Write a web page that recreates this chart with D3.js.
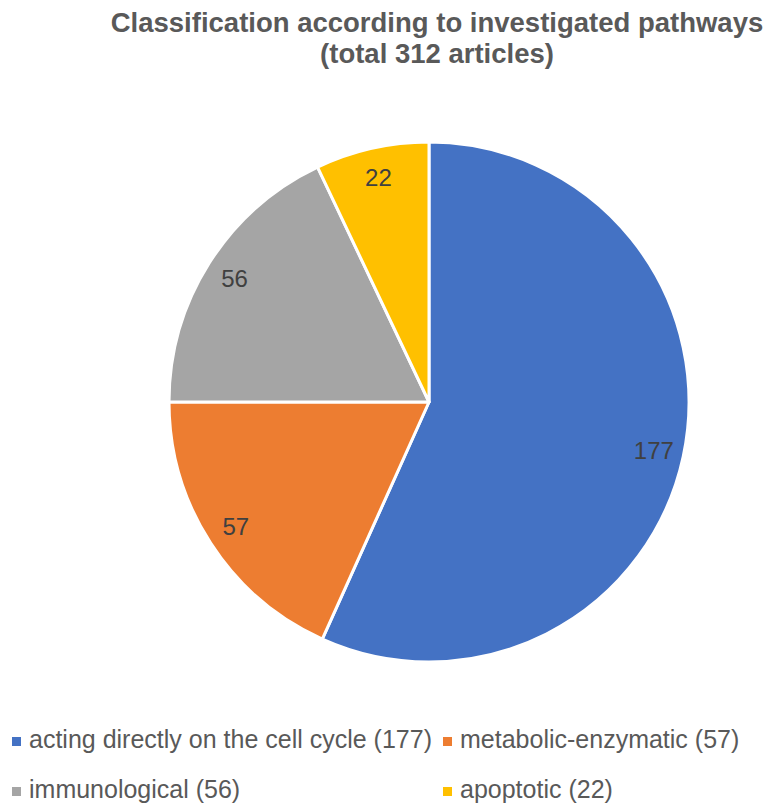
<!DOCTYPE html>
<html>
<head>
<meta charset="utf-8">
<script src="https://cdnjs.cloudflare.com/ajax/libs/d3/7.8.5/d3.min.js"></script>
<style>
  body { margin: 0; background: #fff; }
  svg { display: block; font-family: Arial, "Liberation Sans", sans-serif; }
</style>
</head>
<body>
<svg id="chart" width="776" height="809"></svg>
<script>
/* chart values */
var categories = ["acting directly on the cell cycle", "metabolic-enzymatic", "immunological", "apoptotic"];
var counts = [177, 57, 56, 22];
var colors = ["#4472C4", "#ED7D31", "#A5A5A5", "#FFC000"];
var titleLines = ["Classification according to investigated pathways", "(total 312 articles)"];

var svg = d3.select("#chart");
var textColor = "#595959";

/* title */
svg.selectAll("text.title")
    .data(titleLines)
    .enter().append("text")
    .attr("class", "title")
    .attr("x", 437)
    .attr("y", function(d, i){ return 32 + i * 31; })
    .attr("text-anchor", "middle")
    .attr("font-size", "27.5px")
    .attr("font-weight", "bold")
    .attr("fill", textColor)
    .text(function(d){ return d; });

/* pie */
var cx = 429, cy = 402, R = 260;
var pie = d3.pie().sort(null).value(function(d){ return d; });
var arcs = pie(counts);
var arc = d3.arc().innerRadius(0).outerRadius(R);
var labelArc = d3.arc().innerRadius(230).outerRadius(230);

var g = svg.append("g").attr("transform", "translate(" + cx + "," + cy + ")");

g.selectAll("path")
    .data(arcs)
    .enter().append("path")
    .attr("d", arc)
    .attr("fill", function(d, i){ return colors[i]; })
    .attr("stroke", "#fff")
    .attr("stroke-width", 3)
    .attr("stroke-linejoin", "round");

g.selectAll("text.lbl")
    .data(arcs)
    .enter().append("text")
    .attr("class", "lbl")
    .attr("transform", function(d){ return "translate(" + labelArc.centroid(d) + ")"; })
    .attr("text-anchor", "middle")
    .attr("dy", "0.35em")
    .attr("font-size", "24px")
    .attr("fill", "#404040")
    .text(function(d){ return d.data; });

/* legend: two columns, two rows */
var legendX = [12, 443], legendY = [748, 798];
var leg = svg.selectAll("g.legend")
    .data(categories)
    .enter().append("g")
    .attr("class", "legend")
    .attr("transform", function(d, i){
	return "translate(" + legendX[i % 2] + "," + legendY[Math.floor(i / 2)] + ")";
    });

leg.append("rect")
    .attr("x", 0)
    .attr("y", -11)
    .attr("width", 9)
    .attr("height", 9)
    .attr("fill", function(d, i){ return colors[i]; });

leg.append("text")
    .attr("x", 17)
    .attr("y", 0)
    .attr("font-size", "25px")
    .attr("fill", textColor)
    .text(function(d, i){ return d + " (" + counts[i] + ")"; });
</script>
</body>
</html>
